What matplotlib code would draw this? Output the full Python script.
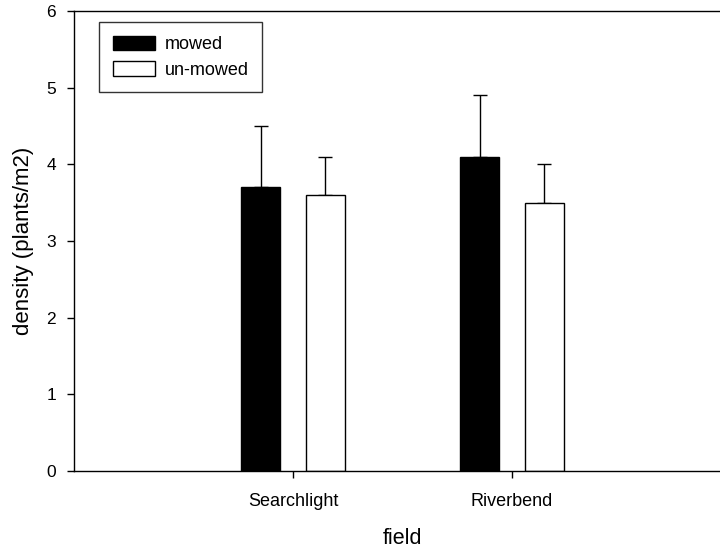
import numpy as np
import matplotlib
matplotlib.use("Agg")
import matplotlib.pyplot as plt

plt.rcParams['font.family'] = ['Liberation Sans', 'DejaVu Sans']

# data
fields = ['Searchlight', 'Riverbend']
mowed = [3.7, 4.1]
mowed_err = [0.8, 0.8]
unmowed = [3.6, 3.5]
unmowed_err = [0.5, 0.5]

fig = plt.figure(figsize=(7.2, 5.5), dpi=100)
ax = fig.add_axes([74 / 720, 1 - 471 / 550, 657 / 720, 460 / 550])

x = np.arange(len(fields))
w = 0.18
off = 0.148

ax.bar(x - off, mowed, w, color='black', edgecolor='black', linewidth=1, label='mowed', zorder=2)
ax.bar(x + off, unmowed, w, color='white', edgecolor='black', linewidth=1, label='un-mowed', zorder=2)
# upper error bars only
ax.errorbar(x - off, mowed, yerr=[np.zeros(2), mowed_err], fmt='none', ecolor='black',
            elinewidth=1, capsize=5, capthick=1, zorder=1)
ax.errorbar(x + off, unmowed, yerr=[np.zeros(2), unmowed_err], fmt='none', ecolor='black',
            elinewidth=1, capsize=5, capthick=1, zorder=1)

ax.set_xlim(-1, 2)
ax.set_ylim(0, 6)
ax.set_xticks(x)
ax.set_xticklabels(fields)
ax.set_yticks(range(7))
ax.tick_params(axis='both', direction='out', length=5, width=1)
ax.tick_params(axis='x', labelsize=13, pad=11)
ax.tick_params(axis='y', labelsize=12.5, pad=8)
ax.set_xlabel('field', fontsize=15.5, labelpad=13)
ax.set_ylabel('density (plants/m2)', fontsize=16, labelpad=8.5)
for s in ax.spines.values():
    s.set_linewidth(1)

leg = ax.legend(loc='upper left', bbox_to_anchor=(0.038, 0.976), frameon=True, fancybox=False,
                edgecolor='black', fontsize=13, handlelength=2.33, handleheight=0.85,
                labelspacing=0.45, borderpad=0.75, handletextpad=0.55, borderaxespad=0)
leg.get_frame().set_linewidth(1)

fig.savefig('out.png', dpi=100)
